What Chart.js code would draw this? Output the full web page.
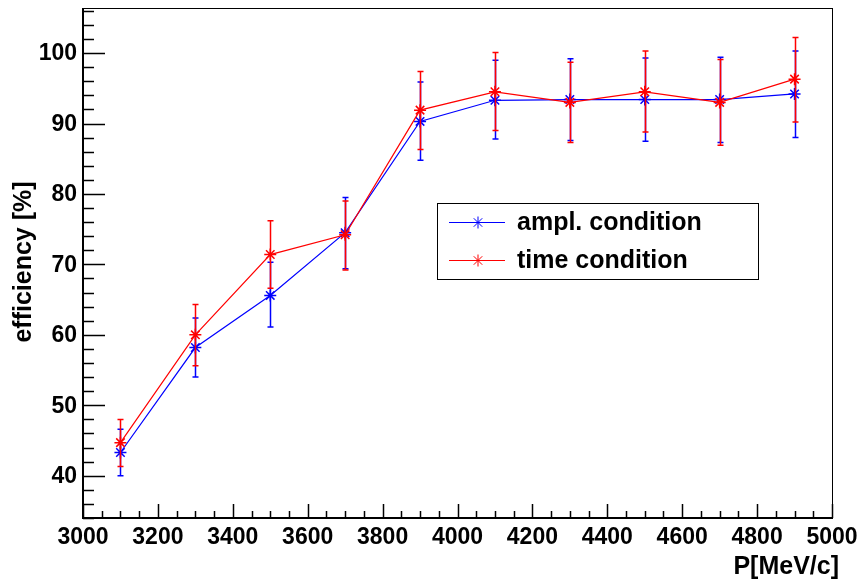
<!DOCTYPE html>
<html>
<head>
<meta charset="utf-8">
<script src="https://cdn.jsdelivr.net/npm/chart.js@4"></script>
<style>
  html, body { margin: 0; padding: 0; background: #fff; }
  #wrap { width: 860px; height: 585px; }
</style>
</head>
<body>
<div id="wrap"><canvas id="effChart" width="860" height="585"></canvas></div>
<script>
// momentum points (MeV/c)
const momenta = [3100, 3300, 3500, 3700, 3900, 4100, 4300, 4500, 4700, 4900];

// ampl. condition: value, upper and lower end of the error bar
const amplEff = [43.3, 58.2, 65.6, 74.5, 90.3, 93.3, 93.4, 93.4, 93.4, 94.2];
const amplHigh = [46.6, 62.4, 70.3, 79.5, 95.9, 99.0, 99.2, 99.3, 99.4, 100.3];
const amplLow = [40.0, 54.0, 61.1, 69.4, 84.8, 87.8, 87.6, 87.5, 87.3, 88.0];

// time condition
const timeEff = [44.7, 60.0, 71.4, 74.2, 91.9, 94.5, 93.0, 94.5, 93.0, 96.3];
const timeHigh = [48.0, 64.3, 76.2, 79.0, 97.4, 100.1, 98.7, 100.3, 99.1, 102.2];
const timeLow = [41.3, 55.6, 66.6, 69.2, 86.3, 89.0, 87.3, 88.8, 86.9, 90.2];

// axis ticks
const xTicks = [3000, 3200, 3400, 3600, 3800, 4000, 4200, 4400, 4600, 4800, 5000];
const yTicks = [40, 50, 60, 70, 80, 90, 100];

const FONT = '"Liberation Sans", Arial, Helvetica, sans-serif';

function toPoints(xs, ys) {
    return xs.map((x, i) => ({ x: x, y: ys[i] }));
}

// error bars, drawn just before each dataset so the later series sits on top
const errorBars = {
    id: 'errorBars',
    beforeDatasetDraw(chart, args) {
        const ds = chart.data.datasets[args.index];
        const xs = chart.scales.x, ys = chart.scales.y;
        const ctx = chart.ctx;
        ctx.save();
        ctx.strokeStyle = ds.borderColor;
        ctx.lineWidth = 1.5;
        ds.data.forEach((p, i) => {
            const px = Math.round(xs.getPixelForValue(p.x)) + 0.5;
            const top = ys.getPixelForValue(ds.errHigh[i]);
            const bot = ys.getPixelForValue(ds.errLow[i]);
            ctx.beginPath();
            ctx.moveTo(px, top);
            ctx.lineTo(px, bot);
            ctx.moveTo(px - 3, top);
            ctx.lineTo(px + 3, top);
            ctx.moveTo(px - 3, bot);
            ctx.lineTo(px + 3, bot);
            ctx.stroke();
        });
        ctx.restore();
    }
};

// ROOT style frame: ticks inside, bold labels, titles, legend box
const rootFrame = {
    id: 'rootFrame',
    afterDraw(chart) {
        const ctx = chart.ctx;
        const a = chart.chartArea;
        const xs = chart.scales.x, ys = chart.scales.y;
        ctx.save();

        // frame
        ctx.strokeStyle = '#000';
        ctx.lineWidth = 1;
        ctx.strokeRect(Math.round(a.left) + 0.5, Math.round(a.top) + 0.5,
            Math.round(a.right - a.left), Math.round(a.bottom - a.top));
        ctx.lineWidth = 2;
        ctx.beginPath();
        ctx.moveTo(a.left, a.top);
        ctx.lineTo(a.left, a.bottom);
        ctx.lineTo(a.right, a.bottom);
        ctx.stroke();

        // y ticks
        ctx.lineWidth = 1.5;
        ctx.beginPath();
        for (let v = 34; v <= 106; v += 2) {
            const py = Math.round(ys.getPixelForValue(v)) + 0.5;
            const len = v % 10 === 0 ? 22 : 11;
            ctx.moveTo(a.left, py);
            ctx.lineTo(a.left + len, py);
        }
        // x ticks
        for (let v = 3000; v <= 5000; v += 50) {
            const px = Math.round(xs.getPixelForValue(v)) + 0.5;
            const len = v % 200 === 0 ? 14 : 7;
            ctx.moveTo(px, a.bottom);
            ctx.lineTo(px, a.bottom - len);
        }
        ctx.stroke();

        // tick labels
        ctx.fillStyle = '#000';
        ctx.font = 'bold 23px ' + FONT;
        ctx.textAlign = 'right';
        ctx.textBaseline = 'middle';
        yTicks.forEach(v => ctx.fillText(String(v), 77, ys.getPixelForValue(v) + 1));
        ctx.textAlign = 'center';
        xTicks.forEach(v => ctx.fillText(String(v), xs.getPixelForValue(v), 538));

        // axis titles
        ctx.font = 'bold 25px ' + FONT;
        ctx.textAlign = 'right';
        ctx.fillText('P[MeV/c]', 839, 567);
        ctx.save();
        ctx.translate(24, 262);
        ctx.rotate(-Math.PI / 2);
        ctx.textAlign = 'center';
        ctx.fillText('efficiency [%]', 0, 0);
        ctx.restore();

        // legend
        ctx.fillStyle = '#fff';
        ctx.fillRect(437, 203, 322, 76);
        ctx.strokeStyle = '#000';
        ctx.lineWidth = 1;
        ctx.strokeRect(437.5, 203.5, 321, 76);
        const rows = [
            { label: 'ampl. condition', color: '#0000ff', y: 222 },
            { label: 'time condition', color: '#ff0000', y: 260 }
        ];
        ctx.font = 'bold 25px ' + FONT;
        ctx.textAlign = 'left';
        rows.forEach(r => {
            ctx.strokeStyle = r.color;
            ctx.lineWidth = 1;
            ctx.beginPath();
            ctx.moveTo(449, r.y + 0.5);
            ctx.lineTo(505, r.y + 0.5);
            ctx.stroke();
            Chart.helpers.drawPoint(ctx, { pointStyle: 'star', radius: 6, borderWidth: 1.5 }, 478, r.y + 0.5);
            ctx.fillStyle = '#000';
            ctx.fillText(r.label, 517, r.y + 1);
        });

        ctx.restore();
    }
};

new Chart(document.getElementById('effChart').getContext('2d'), {
    type: 'line',
    data: {
        datasets: [
            {
                label: 'ampl. condition',
                data: toPoints(momenta, amplEff),
                errHigh: amplHigh,
                errLow: amplLow,
                borderColor: '#0000ff',
                backgroundColor: '#0000ff',
                borderWidth: 1.2,
                pointStyle: 'star',
                pointRadius: 6,
                pointBorderWidth: 1.5,
                tension: 0,
                order: 1
            },
            {
                label: 'time condition',
                data: toPoints(momenta, timeEff),
                errHigh: timeHigh,
                errLow: timeLow,
                borderColor: '#ff0000',
                backgroundColor: '#ff0000',
                borderWidth: 1.2,
                pointStyle: 'star',
                pointRadius: 6,
                pointBorderWidth: 1.5,
                tension: 0,
                order: 0
            }
        ]
    },
    options: {
        responsive: false,
        animation: false,
        layout: { padding: { left: 83, top: 8, right: 28, bottom: 67 } },
        scales: {
            x: { type: 'linear', min: 3000, max: 5000, display: false },
            y: { type: 'linear', min: 34, max: 106.4, display: false }
        },
        plugins: {
            legend: { display: false },
            tooltip: { enabled: false }
        }
    },
    plugins: [errorBars, rootFrame]
});
</script>
</body>
</html>
